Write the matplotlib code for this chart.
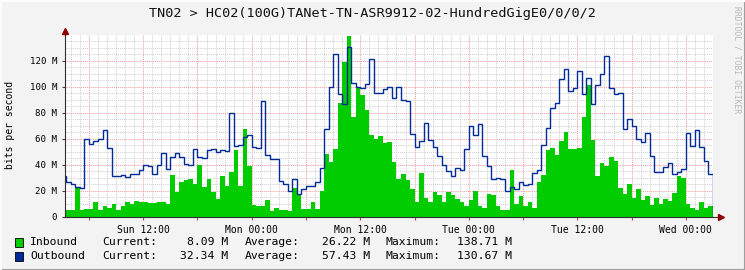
import numpy as np
import matplotlib
matplotlib.use("Agg")
import matplotlib.pyplot as plt
from matplotlib.patches import Rectangle
from matplotlib.lines import Line2D

plt.rcParams['font.family'] = ['DejaVu Sans Mono']

title = "TN02 > HC02(100G)TANet-TN-ASR9912-02-HundredGigE0/0/0/2"

# 30-minute averages in Mbit/s, first bin starts Sun 03:00
step_h = 0.5
inbound = [
    4, 5, 5, 22.5, 5, 6, 6, 10.8, 5, 8, 6.4, 10, 5, 7.7, 11.5, 9.5, 12, 11.3, 11.3, 10.3, 10.3, 11.5, 10.8, 9.7,
    32, 18.5, 26.7, 28.2, 28.7, 25.1, 39.7, 22.6, 29, 18.5, 13.6, 30.8, 23.8, 34.6, 51.3, 23.8, 67.4, 39, 8.5, 7.7,
    7.7, 12.8, 4.6, 6.4, 5, 5, 4.6, 22.3, 17.4, 5.9, 5.9, 10.8, 5.9, 20, 48.2, 41.8, 51.8, 87.7, 119.2, 138.7,
    76.9, 99.5, 93.6, 82, 62.8, 59.7, 62, 56.4, 57.7, 42.3, 28.7, 32.8, 27.7, 21.3, 10.8, 33.8, 14.1, 10.8, 18.5,
    16.7, 11.5, 19.2, 16.7, 13.6, 11.5, 8.2, 12.8, 19.7, 7.7, 6.9, 17.4, 16.2, 8.2, 5.1, 5.1, 35.9, 9.7, 15.4,
    7.7, 11.5, 6.9, 26.9, 32, 50.8, 52.6, 47.4, 58.2, 65.4, 51.8, 52, 53, 76.4, 101.3, 59, 31.5, 41.5, 39.2,
    45.6, 42.8, 22.3, 17.4, 24.9, 14.1, 21, 12.8, 15.9, 8.5, 14.1, 9.7, 13.6, 12, 17.9, 31.3, 30, 9.7, 6.9, 5.1,
    11.5, 6.9, 8.09,
]
outbound = [
    31.5, 26.4, 24.9, 23, 21.8, 60, 56, 58, 60, 66.7, 52.6, 31, 31, 32, 30.5, 33, 33, 36, 39.5, 39, 32.5, 39.5,
    48.7, 36.4, 46, 48.7, 45.6, 40.5, 39.7, 51.8, 45.6, 45, 51.3, 51.8, 49.7, 50.8, 50.2, 79.5, 54.4, 54.9, 61,
    62.6, 53.3, 52.6, 88.7, 47.7, 44, 44, 27.4, 24.9, 19.7, 28.7, 17.4, 21, 23.6, 23.6, 26.2, 37.7, 67.2, 99.5,
    124.9, 94.4, 86.7, 130.7, 102.6, 99.5, 98.7, 102, 121, 95.4, 95.4, 98, 99.5, 91, 100, 89.7, 89.2, 63.3, 53.3,
    58.2, 71.8, 59, 53.3, 46.2, 39.7, 35.1, 31.3, 37.2, 35.9, 52, 70, 62.8, 71, 46.7, 39, 29, 29.5, 28.7, 19.7,
    23, 21, 26.2, 24.4, 24.9, 33.3, 35.4, 55.1, 67.9, 83.3, 87.2, 105.6, 113.3, 96.7, 98.7, 112.3, 94.1, 106.4,
    86.7, 101.3, 109.7, 123.6, 98.7, 94.4, 94.9, 67.4, 74.9, 70, 59.5, 57.2, 64.1, 46.9, 34.6, 34.1, 37.9, 41.5,
    32.6, 34.6, 36.4, 64.1, 54.4, 66.7, 53.8, 42.8, 32.34,
]
xtick_labels = ["Sun 12:00", "Mon 00:00", "Mon 12:00", "Tue 00:00", "Tue 12:00", "Wed 00:00"]
inbound_stats = ["8.09 M", "26.22 M", "138.71 M"]
outbound_stats = ["32.34 M", "57.43 M", "130.67 M"]

green = '#00cc00'
blue = '#002a97'
W, H = 745, 270

fig = plt.figure(figsize=(W / 100, H / 100), dpi=100, facecolor='#f3f3f3')
ax = fig.add_axes([65 / W, 53.5 / H, 648 / W, 181.3 / H])
ax.set_facecolor('white')

edges = np.arange(len(inbound) + 1) * step_h
ax.stairs(inbound, edges, fill=True, color=green, lw=0, zorder=2)
ax.stairs(outbound, edges, color=blue, lw=1.0, zorder=3)

ax.set_xlim(0.35, 72)
ax.set_ylim(0, 139.5)

# x grid: red every 6 h, grey every hour, labels every 12 h (first at Sun 12:00 = 9 h)
major_x = np.arange(3, 72, 6)
lab = dict(zip(9 + 12 * np.arange(len(xtick_labels)), xtick_labels))
ax.set_xticks(major_x, [lab.get(h, '') for h in major_x])
ax.set_xticks(np.arange(1, 72), minor=True)
yt = np.arange(0, 140, 20)
ax.set_yticks(yt, ['0'] + [f'{v} M' for v in yt[1:]])
ax.set_yticks(np.arange(0, 140, 5), minor=True)

ax.grid(which='minor', color='#cfcfcf', linestyle=(0, (1, 1)), lw=0.7)
ax.grid(which='major', color='#f09a9a', linestyle=(0, (1, 1)), lw=0.7)
ax.set_axisbelow(True)

ax.tick_params(axis='x', which='major', length=2, color='#c04040', pad=4, labelsize=7)
ax.tick_params(axis='y', which='major', length=2, color='#404040', pad=3.5, labelsize=6.6)
ax.tick_params(which='minor', length=0)

for s in ['top', 'right']:
    ax.spines[s].set_visible(False)
for s in ['left', 'bottom']:
    ax.spines[s].set_color('#303030')
    ax.spines[s].set_linewidth(0.8)
    ax.spines[s].set_zorder(4)

# axis arrows
ax.plot([1.0, 1.012], [0, 0], transform=ax.transAxes, clip_on=False, color='#303030', lw=0.8, zorder=4)
ax.plot([1.012], [0], transform=ax.transAxes, clip_on=False, marker='>', ms=4, color='#8b0000', zorder=5)
ax.plot([0, 0], [1.0, 1.02], transform=ax.transAxes, clip_on=False, color='#303030', lw=0.8, zorder=4)
ax.plot([0], [1.025], transform=ax.transAxes, clip_on=False, marker='^', ms=4, color='#8b0000', zorder=5)

fig.text(0.5, 1 - 14 / H, title, ha='center', va='center', fontsize=9.7, color='#101010')
fig.text(10 / W, 1 - 125 / H, 'bits per second', rotation=90, ha='center', va='center', fontsize=7)
fig.text(737 / W, 1 - 60 / H, 'RRDTOOL / TOBI OETIKER', rotation=270, ha='center', va='center',
         fontsize=5.8, color='#b8b8b8')

# legend
rows = [('Inbound', green, inbound_stats, 242), ('Outbound', blue, outbound_stats, 256)]
for name, col, stats, yy in rows:
    fy = 1 - yy / H
    fig.add_artist(Rectangle((15 / W, fy - 4.5 / H), 8 / W, 9 / H, transform=fig.transFigure,
                             facecolor=col, edgecolor='black', lw=0.6))
    fig.text(30 / W, fy, name, ha='left', va='center', fontsize=8.2)
    for lx, key, rx, val in zip([102, 245, 386], ['Current:', 'Average:', 'Maximum:'], [228, 370, 512], stats):
        fig.text(lx / W, fy, key, ha='left', va='center', fontsize=8.2)
        fig.text(rx / W, fy, val, ha='right', va='center', fontsize=8.2)

# image frame
fig.add_artist(Line2D([0, 1], [0.5 / H, 0.5 / H], transform=fig.transFigure, color='#9e9e9e', lw=1.5))
fig.add_artist(Line2D([1 - 0.5 / W, 1 - 0.5 / W], [0, 1], transform=fig.transFigure, color='#9e9e9e', lw=1.5))
fig.add_artist(Line2D([0, 1], [1 - 0.5 / H, 1 - 0.5 / H], transform=fig.transFigure, color='#fcfcfc', lw=1.5))
fig.add_artist(Line2D([0.5 / W, 0.5 / W], [0, 1], transform=fig.transFigure, color='#fcfcfc', lw=1.5))

fig.savefig('out.png', dpi=100, facecolor=fig.get_facecolor())
